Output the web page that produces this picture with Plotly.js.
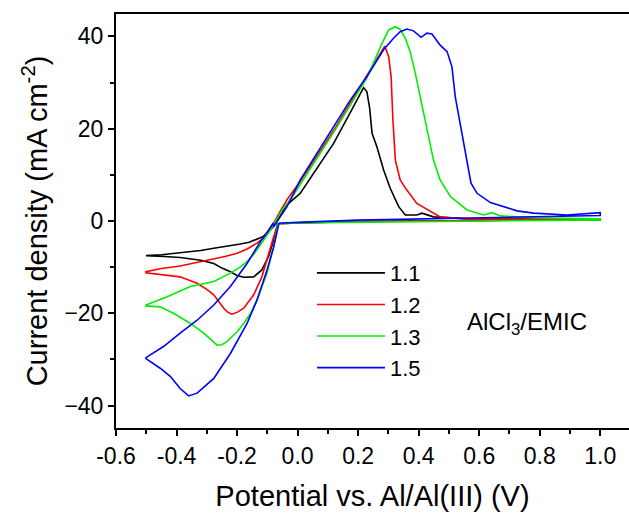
<!DOCTYPE html>
<html>
<head>
<meta charset="utf-8">
<script src="https://cdn.plot.ly/plotly-3.0.1.min.js"></script>
<style>
  html, body { margin: 0; padding: 0; background: #fff; }
  #chart { width: 629px; height: 515px; }
</style>
</head>
<body>
<div id="chart"></div>
<script>
// AlCl3/EMIC molar ratios (legend labels)
const seriesNames = ["1.1", "1.2", "1.3", "1.5"];
const seriesColors = ["#000000", "#ff0000", "#00ee00", "#0000ff"];

// 1.1
const potential11 = [-0.066, -0.068, -0.079, -0.096, -0.118, -0.145, -0.178, -0.2, -0.222, -0.25, -0.277, -0.32, -0.388, -0.44, -0.501,
  -0.501, -0.45, -0.388, -0.32, -0.277, -0.23, -0.189, -0.16, -0.134, -0.115, -0.101, -0.09, -0.079, -0.07,
  -0.06, -0.035, 0.009, 0.064, 0.119, 0.174, 0.2, 0.218, 0.229, 0.238, 0.246, 0.262, 0.284, 0.306, 0.334, 0.356, 0.394, 0.411, 0.449, 0.56, 0.78, 1.0,
  1.0, 0.6, 0.2, 0.0, -0.066];
const current11 = [-0.6, -1.2, -4.1, -7.7, -10.6, -12.1, -12.2, -11.8, -11.0, -10.2, -9.2, -8.5, -7.9, -7.7, -7.6,
  -7.5, -7.3, -6.9, -6.4, -5.9, -5.5, -5.0, -4.6, -4.0, -3.4, -2.7, -2.0, -1.2, -0.2,
  0.8, 3.5, 6.0, 11.4, 16.8, 23.5, 26.8, 28.9, 28.0, 24.5, 19.0, 16.1, 11.1, 7.1, 3.1, 1.3, 1.3, 1.7, 0.9, 0.5, 0.4, 0.4,
  0.3, 0.1, -0.1, -0.4, -0.6];

// 1.2
const potential12 = [-0.066, -0.066, -0.079, -0.096, -0.118, -0.145, -0.178, -0.2, -0.217, -0.23, -0.244, -0.26, -0.277, -0.3, -0.332, -0.388, -0.443, -0.48, -0.501,
  -0.501, -0.45, -0.388, -0.33, -0.277, -0.24, -0.2, -0.165, -0.134, -0.115, -0.101, -0.085, -0.075,
  -0.06, -0.035, 0.009, 0.064, 0.119, 0.174, 0.229, 0.26, 0.288, 0.301, 0.309, 0.315, 0.323, 0.339, 0.361, 0.394, 0.449, 0.471, 0.56, 0.78, 1.0,
  1.0, 0.6, 0.2, 0.0, -0.066];
const current12 = [-0.6, -0.9, -3.4, -7.0, -12.1, -16.0, -18.9, -19.8, -20.2, -19.8, -18.9, -17.5, -16.0, -14.8, -13.5, -12.1, -11.7, -11.4, -11.2,
  -11.0, -10.3, -9.75, -9.0, -8.3, -7.7, -7.0, -6.0, -4.8, -3.8, -2.7, -1.2, 0.0,
  1.8, 4.6, 8.6, 14.2, 19.6, 25.6, 31.5, 34.8, 37.9, 35.6, 31.3, 21.9, 13.2, 8.9, 6.7, 3.8, 1.7, 0.9, 0.4, 0.3, 0.4,
  0.3, 0.1, -0.1, -0.4, -0.6];

// 1.3
const potential13 = [-0.066, -0.066, -0.079, -0.101, -0.134, -0.155, -0.178, -0.2, -0.233, -0.25, -0.266, -0.28, -0.31, -0.354, -0.41, -0.454, -0.501,
  -0.501, -0.431, -0.354, -0.3, -0.277, -0.222, -0.19, -0.167, -0.145, -0.123, -0.096, -0.079, -0.07,
  -0.05, -0.02, 0.009, 0.064, 0.119, 0.174, 0.229, 0.279, 0.301, 0.323, 0.339, 0.356, 0.372, 0.389, 0.405, 0.427, 0.449, 0.471, 0.505, 0.56, 0.614, 0.642, 0.67, 0.78, 1.0,
  1.0, 0.6, 0.2, 0.0, -0.066];
const current13 = [-0.6, -1.2, -5.6, -11.3, -17.1, -20.0, -22.2, -24.0, -26.1, -26.8, -26.9, -26.0, -24.3, -22.2, -20.0, -18.6, -18.4,
  -18.2, -16.4, -14.2, -13.5, -13.1, -11.3, -10.0, -8.8, -7.2, -5.2, -2.7, -0.9, 0.3,
  2.5, 5.0, 7.9, 13.6, 19.2, 25.0, 31.0, 38.5, 41.4, 42.1, 41.5, 39.6, 36.7, 32.0, 26.9, 19.7, 13.2, 8.9, 5.3, 2.4, 1.3, 1.8, 1.1, 0.7, 0.47,
  0.25, 0.0, -0.2, -0.4, -0.6];

// 1.5
const potential15 = [-0.063, -0.063, -0.079, -0.101, -0.134, -0.167, -0.222, -0.277, -0.332, -0.36, -0.388, -0.42, -0.454, -0.487, -0.501,
  -0.501, -0.443, -0.388, -0.332, -0.277, -0.222, -0.167, -0.123, -0.096, -0.081,
  -0.079, -0.035, 0.009, 0.064, 0.119, 0.174, 0.229, 0.284, 0.317, 0.339, 0.361, 0.383, 0.408, 0.427, 0.444, 0.471, 0.494, 0.51, 0.521, 0.543, 0.56, 0.573, 0.593, 0.637, 0.725, 0.78, 0.89, 1.0,
  1.0, 0.6, 0.2, 0.0, -0.063];
const current15 = [-0.5, -0.9, -5.6, -10.6, -17.1, -22.2, -28.7, -34.1, -37.3, -37.9, -36.3, -33.7, -31.9, -30.5, -29.8,
  -29.6, -27.2, -24.3, -21.5, -18.2, -14.2, -9.2, -4.5, -2.0, -0.5,
  -1.2, 3.1, 8.9, 14.7, 20.4, 26.2, 31.3, 37.1, 39.6, 41.0, 41.6, 41.2, 39.8, 40.7, 40.5, 38.1, 36.7, 33.4, 26.9, 19.0, 13.2, 8.2, 6.0, 4.0, 2.2, 1.7, 1.3, 1.8,
  1.2, 0.7, 0.2, -0.3, -0.5];

const xTickVals = [-0.6, -0.4, -0.2, 0.0, 0.2, 0.4, 0.6, 0.8, 1.0];
const xTickText = ["-0.6", "-0.4", "-0.2", "0.0", "0.2", "0.4", "0.6", "0.8", "1.0"];
const yTickVals = [-40, -20, 0, 20, 40];

const xs = [potential11, potential12, potential13, potential15];
const ys = [current11, current12, current13, current15];

const FONT = "Arial, 'Liberation Sans', sans-serif";

const traces = xs.map((x, i) => ({
  type: "scatter",
  mode: "lines",
  x: x,
  y: ys[i],
  name: seriesNames[i],
  line: { color: seriesColors[i], width: 1.6 },
}));

const layout = {
  width: 629,
  height: 515,
  margin: { l: 116, r: 0, t: 14, b: 87, pad: 0 },
  paper_bgcolor: "#ffffff",
  plot_bgcolor: "#ffffff",
  font: { family: FONT, size: 23, color: "#000" },
  showlegend: true,
  legend: {
    x: 0.382, y: 0.425, xanchor: "left", yanchor: "top",
    font: { family: FONT, size: 22, color: "#000" },
    bgcolor: "rgba(0,0,0,0)",
    itemwidth: 68,
    tracegroupgap: 0,
  },
  xaxis: {
    range: [-0.6, 1.095],
    tickmode: "array",
    tickvals: xTickVals,
    ticktext: xTickText,
    ticks: "outside",
    ticklen: 6,
    tickwidth: 2,
    tickcolor: "#000",
    showline: true,
    linewidth: 2,
    linecolor: "#000",
    mirror: true,
    showgrid: false,
    zeroline: false,
    automargin: true,
    tickfont: { family: FONT, size: 23, color: "#000" },
    minor: { tickmode: "linear", tick0: -0.6, dtick: 0.1, ticks: "outside", ticklen: 4, tickwidth: 2, tickcolor: "#000", showgrid: false },
    title: { text: "Potential vs. Al/Al(III) (V)", font: { family: FONT, size: 29, color: "#000" }, standoff: 18 },
  },
  yaxis: {
    range: [-44.85, 44.85],
    tickmode: "array",
    tickvals: yTickVals,
    ticks: "outside",
    ticklen: 6,
    tickwidth: 2,
    tickcolor: "#000",
    showline: true,
    linewidth: 2,
    linecolor: "#000",
    mirror: false,
    showgrid: false,
    zeroline: false,
    tickfont: { family: FONT, size: 23, color: "#000" },
    minor: { tickmode: "linear", tick0: -40, dtick: 10, ticks: "outside", ticklen: 4, tickwidth: 2, tickcolor: "#000", showgrid: false },
    title: { text: "Current density (mA cm<sup>-2</sup>)", font: { family: FONT, size: 29, color: "#000" } },
  },
  annotations: [
    {
      xref: "paper", yref: "paper", x: 0.801, y: 0.253,
      xanchor: "center", yanchor: "middle", showarrow: false,
      text: "AlCl<sub>3</sub>/EMIC",
      font: { family: FONT, size: 24, color: "#000" },
    },
  ],
};

Plotly.newPlot("chart", traces, layout, { displayModeBar: false, staticPlot: true });
</script>
</body>
</html>
